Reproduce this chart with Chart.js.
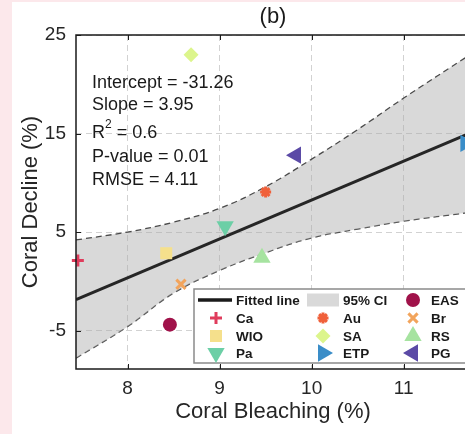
<!DOCTYPE html>
<html>
<head>
<meta charset="utf-8">
<script src="https://cdn.jsdelivr.net/npm/chart.js@4/dist/chart.umd.min.js"></script>
<style>
  html, body { margin: 0; padding: 0; overflow: hidden; background: #fce8eb; }
  #wrap { width: 480px; height: 434px; position: relative; }
</style>
</head>
<body>
<div id="wrap"><canvas id="chart" width="480" height="434"></canvas></div>
<script>
// data
const regions = ['Ca', 'WIO', 'Pa', 'Au', 'SA', 'ETP', 'EAS', 'Br', 'RS', 'PG'];
const bleaching = [7.46, 8.42, 9.06, 9.50, 8.69, 11.67, 8.46, 8.58, 9.46, 9.83];
const decline = [2.1, 2.85, 5.6, 9.06, 23.0, 14.0, -4.4, -0.3, 2.4, 12.8];

const fitX = [7.44, 11.72];
const fitY = [-1.87, 15.03];

const ciX = [7.44, 8, 8.5, 9, 9.5, 10, 10.5, 11, 11.72];
const ciUpper = [4.2, 5.0, 6.0, 7.4, 9.6, 12.4, 15.4, 18.6, 23.0];
const ciLower = [-7.8, -4.6, -1.2, 1.1, 2.9, 4.4, 5.3, 6.1, 7.0];

const xTicks = [8, 9, 10, 11];
const yTicks = [-5, 5, 15, 25];

const statLines = ['Intercept = -31.26', 'Slope = 3.95', 'R2 = 0.6', 'P-value = 0.01', 'RMSE = 4.11'];

// marker look per region
const markerStyle = {
  Ca:  { color: '#e03c5c', pointStyle: 'cross', radius: 6, borderWidth: 3, rotation: 0 },
  WIO: { color: '#f5e08c', pointStyle: 'rect', radius: 8.5, borderWidth: 0, rotation: 0 },
  Pa:  { color: '#6ccfa6', pointStyle: 'triangle', radius: 10, borderWidth: 0, rotation: 180 },
  Au:  { color: '#f0603a', pointStyle: 'star', radius: 5.5, borderWidth: 3, rotation: 0 },
  SA:  { color: '#dcf58c', pointStyle: 'rectRot', radius: 7.5, borderWidth: 0, rotation: 0 },
  ETP: { color: '#3a8dc8', pointStyle: 'triangle', radius: 10, borderWidth: 0, rotation: 90 },
  EAS: { color: '#a0124a', pointStyle: 'circle', radius: 7, borderWidth: 0, rotation: 0 },
  Br:  { color: '#f2a45c', pointStyle: 'crossRot', radius: 6.5, borderWidth: 3, rotation: 0 },
  RS:  { color: '#a6e3a0', pointStyle: 'triangle', radius: 10, borderWidth: 0, rotation: 0 },
  PG:  { color: '#5b4aa6', pointStyle: 'triangle', radius: 10, borderWidth: 0, rotation: 270 }
};

const legendRows = [
  ['__fit', '__ci', 'EAS'],
  ['Ca', 'Au', 'Br'],
  ['WIO', 'SA', 'RS'],
  ['Pa', 'ETP', 'PG']
];

const FONT = '"Liberation Sans", Arial, Helvetica, sans-serif';
Chart.defaults.font.family = FONT;
Chart.defaults.color = '#262626';

function drawMarker(ctx, st, x, y) {
  ctx.save();
  ctx.fillStyle = st.color;
  ctx.strokeStyle = st.color;
  ctx.lineWidth = st.borderWidth;
  if (Chart.helpers && Chart.helpers.drawPoint) {
    Chart.helpers.drawPoint(ctx, {
      pointStyle: st.pointStyle, rotation: st.rotation,
      radius: st.radius, borderWidth: st.borderWidth
    }, x, y);
  } else {
    ctx.beginPath();
    ctx.arc(x, y, st.radius * 0.7, 0, Math.PI * 2);
    ctx.fill();
  }
  ctx.restore();
}

const decorPlugin = {
  id: 'decor',
  beforeDraw(chart) {
    const ctx = chart.ctx;
    ctx.save();
    ctx.fillStyle = '#fce8eb';
    ctx.fillRect(0, 0, chart.width, chart.height);
    ctx.fillStyle = '#ffffff';
    ctx.fillRect(12, 2, chart.width - 12, chart.height - 2);
    ctx.restore();
  },
  afterDraw(chart) {
    const ctx = chart.ctx;
    const a = chart.chartArea;
    const xs = chart.scales.x, ys = chart.scales.y;

    // axes box + inward ticks
    ctx.save();
    ctx.strokeStyle = '#1a1a1a';
    ctx.lineWidth = 1.5;
    ctx.strokeRect(a.left, a.top, a.right - a.left, a.bottom - a.top);
    ctx.lineWidth = 1;
    xTicks.forEach(v => {
      const px = Math.round(xs.getPixelForValue(v)) + 0.5;
      ctx.beginPath();
      ctx.moveTo(px, a.bottom); ctx.lineTo(px, a.bottom - 5);
      ctx.moveTo(px, a.top); ctx.lineTo(px, a.top + 5);
      ctx.stroke();
    });
    yTicks.forEach(v => {
      const py = Math.round(ys.getPixelForValue(v)) + 0.5;
      ctx.beginPath();
      ctx.moveTo(a.left, py); ctx.lineTo(a.left + 5, py);
      ctx.moveTo(a.right, py); ctx.lineTo(a.right - 5, py);
      ctx.stroke();
    });
    ctx.restore();

    // title
    ctx.save();
    ctx.fillStyle = '#1a1a1a';
    ctx.font = '22px ' + FONT;
    ctx.textAlign = 'center';
    ctx.textBaseline = 'middle';
    ctx.fillText('(b)', (a.left + a.right) / 2, 17);
    ctx.restore();

    // statistics text
    const statY = [83, 105, 133, 157, 180];
    ctx.save();
    ctx.fillStyle = '#1a1a1a';
    ctx.textBaseline = 'middle';
    ctx.textAlign = 'left';
    statLines.forEach((t, i) => {
      ctx.font = '18px ' + FONT;
      if (t.startsWith('R2')) {
        ctx.fillText('R', 92, statY[i]);
        const w = ctx.measureText('R').width;
        ctx.font = '12px ' + FONT;
        ctx.fillText('2', 92 + w, statY[i] - 8);
        const w2 = ctx.measureText('2').width;
        ctx.font = '18px ' + FONT;
        ctx.fillText(t.slice(2), 92 + w + w2, statY[i]);
      } else {
        ctx.fillText(t, 92, statY[i]);
      }
    });
    ctx.restore();

    // legend
    const box = { x: 194, y: 289, w: 274, h: 74 };
    const rowY = [300, 318, 336, 353];
    const symX = [216, 323, 413];
    const txtX = [236, 343, 431];
    ctx.save();
    ctx.fillStyle = '#ffffff';
    ctx.fillRect(box.x, box.y, box.w, box.h);
    ctx.strokeStyle = '#8a8a8a';
    ctx.lineWidth = 1.5;
    ctx.strokeRect(box.x, box.y, box.w, box.h);
    ctx.font = 'bold 13.5px ' + FONT;
    ctx.textBaseline = 'middle';
    ctx.textAlign = 'left';
    legendRows.forEach((row, r) => {
      row.forEach((key, c) => {
        const y = rowY[r];
        let label = key;
        if (key === '__fit') {
          ctx.strokeStyle = '#1a1a1a';
          ctx.lineWidth = 3.5;
          ctx.beginPath();
          ctx.moveTo(198, y); ctx.lineTo(232, y);
          ctx.stroke();
          label = 'Fitted line';
        } else if (key === '__ci') {
          ctx.fillStyle = '#d9d9d9';
          ctx.fillRect(307, y - 6.5, 32, 13);
          label = '95% CI';
        } else {
          drawMarker(ctx, markerStyle[key], symX[c], y);
        }
        ctx.fillStyle = '#1a1a1a';
        ctx.fillText(label, txtX[c], y + 1);
      });
    });
    ctx.restore();
  }
};

const pointSets = regions.map((name, i) => {
  const st = markerStyle[name];
  return {
    label: name,
    data: [{ x: bleaching[i], y: decline[i] }],
    pointStyle: st.pointStyle,
    rotation: st.rotation,
    pointRadius: st.radius,
    pointBorderWidth: st.borderWidth,
    backgroundColor: st.color,
    borderColor: st.color,
    showLine: false,
    clip: false,
    order: 1
  };
});

const fitSet = {
  label: 'Fitted line',
  data: fitX.map((x, i) => ({ x, y: fitY[i] })),
  showLine: true,
  borderColor: '#262626',
  borderWidth: 3,
  pointRadius: 0,
  order: 2
};

const upperSet = {
  label: 'CI upper',
  data: ciX.map((x, i) => ({ x, y: ciUpper[i] })),
  showLine: true,
  borderColor: '#4a4a4a',
  borderWidth: 1.3,
  borderDash: [6, 4],
  pointRadius: 0,
  tension: 0.4,
  fill: '+1',
  backgroundColor: 'rgba(170,170,170,0.45)',
  order: 3
};

const lowerSet = {
  label: 'CI lower',
  data: ciX.map((x, i) => ({ x, y: ciLower[i] })),
  showLine: true,
  borderColor: '#4a4a4a',
  borderWidth: 1.3,
  borderDash: [6, 4],
  pointRadius: 0,
  tension: 0.4,
  fill: false,
  order: 3
};

new Chart(document.getElementById('chart').getContext('2d'), {
  type: 'scatter',
  data: { datasets: [...pointSets, fitSet, upperSet, lowerSet] },
  options: {
    responsive: false,
    animation: false,
    layout: { padding: { top: 35, right: 7, left: 0, bottom: 0 } },
    plugins: {
      legend: { display: false },
      tooltip: { enabled: false },
      title: { display: false }
    },
    scales: {
      x: {
        type: 'linear',
        min: 7.44,
        max: 11.72,
        afterFit: s => { s.height = 65; },
        afterBuildTicks: s => { s.ticks = xTicks.map(v => ({ value: v })); },
        ticks: {
          padding: 8,
          color: '#262626',
          font: { size: 19 },
          callback: v => String(v)
        },
        grid: { color: '#d2d2d2', lineWidth: 1, drawTicks: false },
        border: { display: false, dash: [6, 4] },
        title: {
          display: true,
          text: 'Coral Bleaching (%)',
          color: '#262626',
          font: { size: 22 },
          padding: { top: 0, bottom: 9 }
        }
      },
      y: {
        type: 'linear',
        min: -8.9,
        max: 25,
        afterFit: s => { s.width = 76; },
        afterBuildTicks: s => { s.ticks = yTicks.map(v => ({ value: v })); },
        ticks: {
          padding: 10,
          color: '#262626',
          font: { size: 19 },
          callback: v => String(v)
        },
        grid: { color: '#d2d2d2', lineWidth: 1, drawTicks: false },
        border: { display: false, dash: [6, 4] },
        title: {
          display: true,
          text: 'Coral Decline (%)',
          color: '#262626',
          font: { size: 22 },
          padding: { top: 18, bottom: 0 }
        }
      }
    }
  },
  plugins: [decorPlugin]
});
</script>
</body>
</html>
